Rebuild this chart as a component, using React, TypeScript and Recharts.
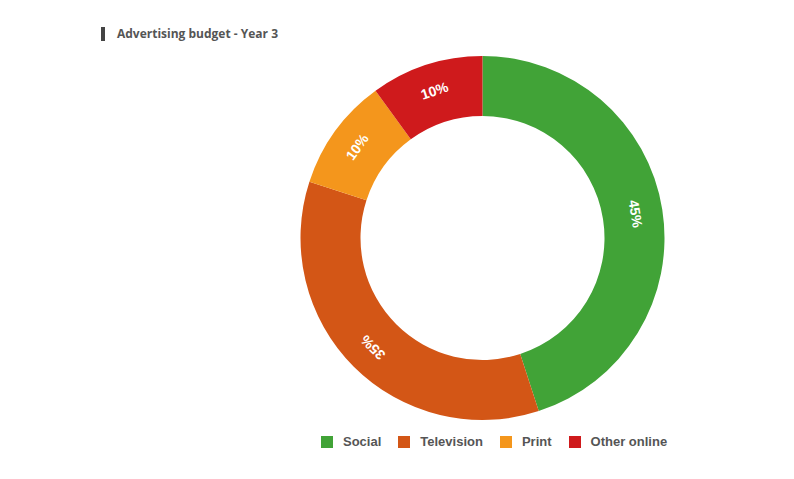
import { PieChart, Pie, Cell, Legend } from 'recharts';

const channels = ['Social', 'Television', 'Print', 'Other online'];
const shares = [45, 35, 10, 10];
const colors = ['#41a337', '#d35616', '#f4961c', '#cf1a1c'];

const data = channels.map((name, i) => ({ name, value: shares[i] }));

const RAD = Math.PI / 180;

// label sits on the ring, rotated along the tangent
const renderLabel = (props: any) => {
  const { cx, cy, midAngle, innerRadius, outerRadius, value } = props;
  const r = (innerRadius + outerRadius) / 2 + 3;
  const x = cx + r * Math.cos(-midAngle * RAD);
  const y = cy + r * Math.sin(-midAngle * RAD);
  const rot = 90 - midAngle;
  return (
    <text
      x={x}
      y={y}
      fill="#fff"
      textAnchor="middle"
      dominantBaseline="central"
      style={{ fontFamily: 'Liberation Sans, Arial, sans-serif', fontWeight: 'bold', fontSize: 14 }}
      transform={`rotate(${rot}, ${x}, ${y})`}
    >
      {value}%
    </text>
  );
};

const renderLegend = () => (
  <div style={{ display: 'flex', alignItems: 'center', fontFamily: 'Liberation Sans, Arial, sans-serif', fontWeight: 'bold', fontSize: 13, color: '#555' }}>
    {channels.map((c, i) => (
      <div key={c} style={{ display: 'flex', alignItems: 'center', marginRight: 17 }}>
        <span style={{ width: 12, height: 12, background: colors[i], display: 'inline-block', marginRight: 10 }} />
        <span>{c}</span>
      </div>
    ))}
  </div>
);

export default function App() {
  return (
    <div style={{ position: 'absolute', left: 0, top: 0, width: 794, height: 479, background: '#fff' }}>
      <div style={{ position: 'absolute', left: 101, top: 27, width: 4, height: 14, background: '#444' }} />
      <div style={{ position: 'absolute', left: 117, top: 25, fontFamily: "'Open Sans', sans-serif", fontWeight: 'bold', fontSize: 12, color: '#555', lineHeight: '18px' }}>
        Advertising budget - Year 3
      </div>
      <PieChart width={794} height={479} margin={{ top: 0, right: 0, bottom: 0, left: 0 }}>
        <Pie
          data={data}
          dataKey="value"
          nameKey="name"
          cx={482.5}
          cy={238}
          outerRadius={182}
          innerRadius={122}
          startAngle={90}
          endAngle={-270}
          stroke="none"
          label={renderLabel}
          labelLine={false}
          isAnimationActive={false}
        >
          {data.map((d, i) => (
            <Cell key={d.name} fill={colors[i]} />
          ))}
        </Pie>
        <Legend content={renderLegend} wrapperStyle={{ position: 'absolute', left: 321, top: 434, width: 420 }} />
      </PieChart>
    </div>
  );
}
